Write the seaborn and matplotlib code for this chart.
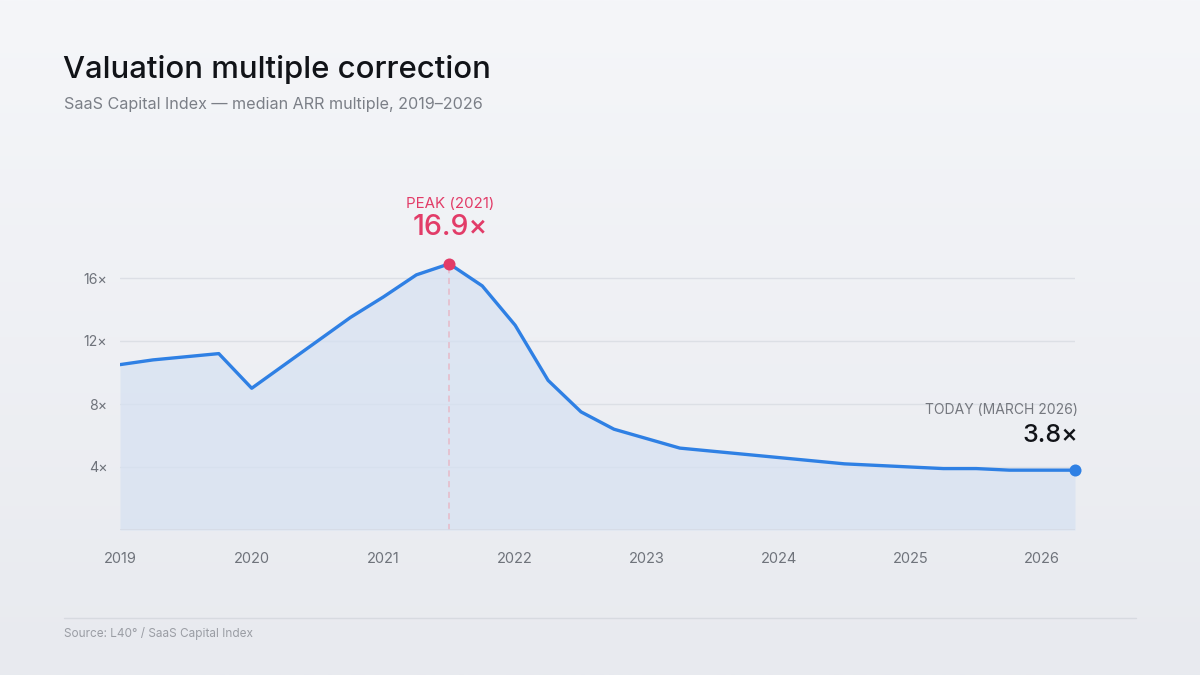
import numpy as np
import pandas as pd
import matplotlib
matplotlib.use("Agg")
import matplotlib.pyplot as plt
import seaborn as sns

# ---- data ----
years = [2019.0, 2019.25, 2019.75, 2020.0, 2020.75, 2021.0, 2021.25, 2021.5, 2021.75,
         2022.0, 2022.25, 2022.5, 2022.75, 2023.25, 2024.5, 2025.25, 2025.5, 2025.75, 2026.25]
multiples = [10.5, 10.8, 11.2, 9.0, 13.5, 14.8, 16.2, 16.9, 15.5,
             13.0, 9.5, 7.5, 6.4, 5.2, 4.2, 3.9, 3.9, 3.8, 3.8]
year_ticks = [2019, 2020, 2021, 2022, 2023, 2024, 2025, 2026]
y_ticks = [4, 8, 12, 16]
y_tick_labels = ["4×", "8×", "12×", "16×"]
peak_year, peak_value = 2021.5, 16.9
today_year, today_value = 2026.25, 3.8

df = pd.DataFrame({"year": years, "multiple": multiples})

sns.set_theme(style="white")
plt.rcParams["font.family"] = ["Inter", "DejaVu Sans"]

W, H = 1200, 675
fig = plt.figure(figsize=(12, 6.75), dpi=100)

# background gradient
bg = fig.add_axes([0, 0, 1, 1], zorder=-10)
grad = np.linspace(0, 1, 256).reshape(-1, 1)
top = np.array([0xf5, 0xf6, 0xf9]) / 255
bot = np.array([0xe8, 0xea, 0xef]) / 255
img = top + (bot - top) * grad[..., None]
bg.imshow(img, aspect="auto", extent=[0, 1, 0, 1], origin="upper")
bg.set_axis_off()

def fx(px):
    return px / W

def fy(py):
    return 1 - py / H

ax_left, ax_right = 120, 1075
ax_bottom, ax_top = 530, 530 - 18 * 15.75
ax = fig.add_axes([fx(ax_left), fy(ax_bottom), fx(ax_right - ax_left), (ax_bottom - ax_top) / H])
ax.set_facecolor("none")

line_color = "#2f80e4"
ax.fill_between(df["year"], df["multiple"], 0, color="#d6e1f2", alpha=0.7, linewidth=0, zorder=1)
sns.lineplot(data=df, x="year", y="multiple", ax=ax, color=line_color, linewidth=2.4, zorder=3)

# gridlines
for t in y_ticks:
    ax.axhline(t, color="#dcdfe5", linewidth=1, zorder=0)

# peak
ax.plot([peak_year, peak_year], [0, peak_value], color="#e7b9c8", linestyle=(0, (4, 3)),
        linewidth=1.1, zorder=2)
ax.scatter([peak_year], [peak_value], s=75, color="#e23c68", zorder=5, linewidths=0)
ax.scatter([today_year], [today_value], s=75, color=line_color, zorder=5, linewidths=0,
           clip_on=False)

ax.set_xlim(2019, 2026.25)
ax.set_ylim(0, 18)
ax.set_xticks(year_ticks)
ax.set_xticklabels([str(y) for y in year_ticks])
ax.set_yticks(y_ticks)
ax.set_yticklabels(y_tick_labels)
ax.tick_params(axis="x", length=0, pad=16, labelsize=10.5, labelcolor="#6f737b")
ax.tick_params(axis="y", length=0, pad=9, labelsize=10.2, labelcolor="#6f737b")
ax.set_xlabel("")
ax.set_ylabel("")
for s in ax.spines.values():
    s.set_visible(False)
ax.axhline(0, color="#d5dbe6", linewidth=1.2, zorder=2)

# peak annotation
fig.text(fx(450), fy(204), "PEAK (2021)", ha="center", va="center", fontsize=10.8,
         color="#e23c68")
fig.text(fx(450), fy(228), "16.9×", ha="center", va="center", fontsize=20.5,
         color="#e23c68", fontweight="medium")

# today annotation
fig.text(fx(1078), fy(410), "TODAY (MARCH 2026)", ha="right", va="center", fontsize=10,
         color="#75787f")
fig.text(fx(1078), fy(435), "3.8×", ha="right", va="center", fontsize=18,
         color="#111318", fontweight="medium")

# title & subtitle
fig.text(fx(63), fy(69), "Valuation multiple correction", ha="left", va="center",
         fontsize=22.4, color="#111318", fontweight="medium")
fig.text(fx(64), fy(104), "SaaS Capital Index — median ARR multiple, 2019–2026", ha="left",
         va="center", fontsize=11.6, color="#7b7f87")

# footer
fig.add_artist(plt.Line2D([fx(64), fx(1136)], [fy(618), fy(618)], color="#d7dae0",
                          linewidth=1, transform=fig.transFigure))
fig.text(fx(64), fy(634), "Source: L40° / SaaS Capital Index", ha="left", va="center",
         fontsize=8.5, color="#9a9da4")

fig.savefig("out.png", dpi=100)
